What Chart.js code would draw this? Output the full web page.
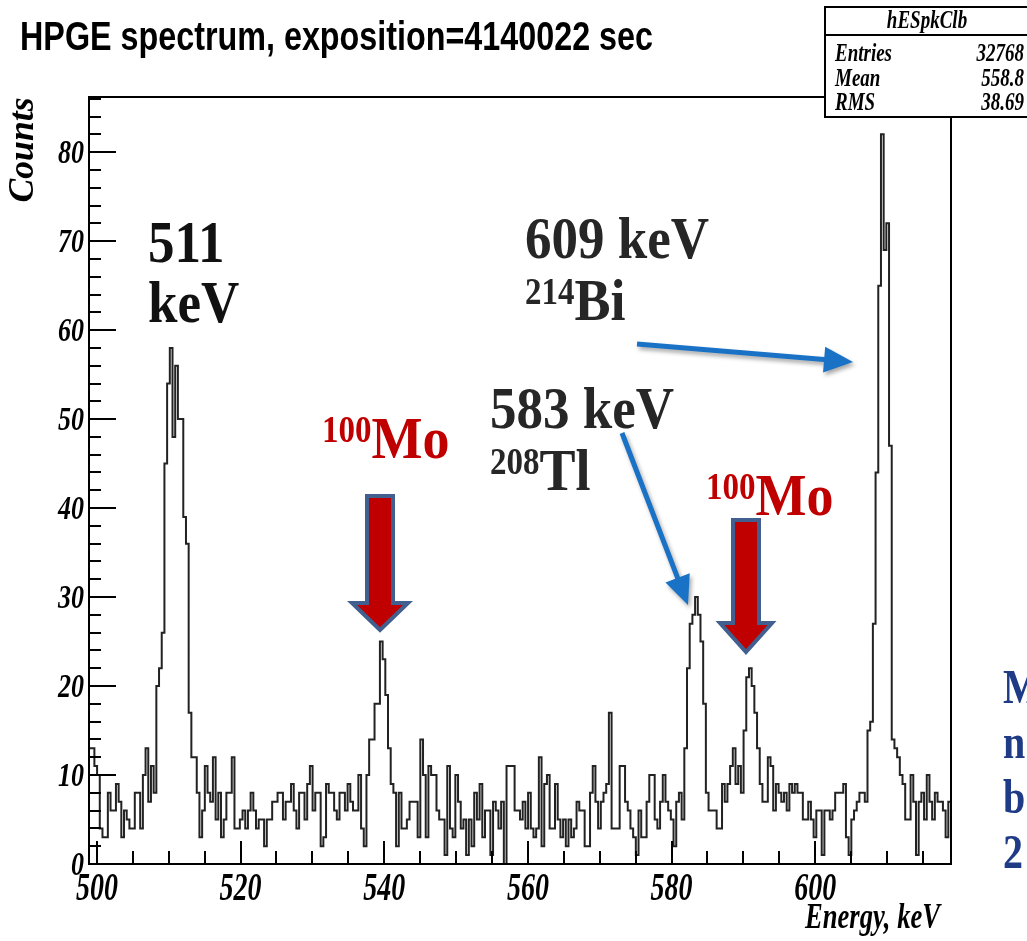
<!DOCTYPE html>
<html><head><meta charset="utf-8">
<script src="https://cdn.jsdelivr.net/npm/chart.js@4.4.1/dist/chart.umd.min.js"></script>
<style>html,body{margin:0;padding:0;background:#fff;overflow:hidden}#wrap{position:relative;width:1027px;height:941px}canvas{display:block}</style>
</head><body><div id="wrap"><canvas id="c" width="1027" height="941"></canvas></div>
<script>
// ---- data ----
const title = "HPGE spectrum, exposition=4140022 sec";
const xTitle = "Energy, keV";
const yTitle = "Counts";
const statsName = "hESpkClb";
const statsLabels = ["Entries", "Mean", "RMS"];
const statsValues = ["32768", "558.8", "38.69"];
const xRange = [498.9, 618.9];
const yRange = [0, 86.2];
const xLabelTicks = [500, 520, 540, 560, 580, 600];
const yLabelTicks = [0, 10, 20, 30, 40, 50, 60, 70, 80];
const binStart = 498.9;
const binWidth = 0.375;
const counts = [
 13,13,11,10,4,3,3,8,6,6,
 9,7,3,6,5,4,4,8,8,4,
 10,13,7,11,8,20,22,26,45,54,
 58,48,56,50,50,39,36,17,12,12,
 8,3,6,11,8,7,12,5,8,3,
 5,8,8,12,4,4,5,6,4,6,
 8,6,4,5,5,2,5,5,7,7,
 8,8,5,7,7,9,6,4,8,8,
 5,9,11,6,8,8,2,3,9,8,
 8,6,5,8,8,6,9,7,6,6,
 10,4,2,10,14,14,18,18,25,23,
 19,13,9,8,2,8,4,4,5,7,
 7,7,3,14,10,3,11,10,10,6,
 5,5,1,11,4,3,10,7,4,5,
 1,5,2,8,5,9,3,6,6,1,
 7,6,4,7,0,11,11,11,6,6,
 5,7,4,8,4,3,4,12,2,9,
 10,4,4,9,5,3,5,2,5,3,
 4,7,6,6,2,2,8,11,7,4,
 7,8,9,17,4,4,4,11,11,7,
 6,4,3,1,6,3,3,7,10,10,
 5,4,7,10,7,6,5,2,7,8,
 5,13,22,27,28,30,28,25,18,8,
 6,6,6,4,4,9,7,9,11,13,
 9,11,8,15,21,22,20,17,13,9,
 7,7,12,11,6,9,8,7,8,6,
 9,8,9,8,8,5,5,7,5,3,
 6,6,1,6,6,5,6,8,8,8,
 9,3,1,5,6,7,8,8,7,15,
 16,27,44,65,82,69,72,47,14,13,
 12,10,9,5,5,10,7,1,7,8,
 5,10,7,5,8,7,7,6,3,7
];
const peakLabels = [
  {text:"511", x:148, y:262, color:"#111"},
  {text:"keV", x:148, y:322, color:"#111"},
  {text:"609 keV", x:525, y:258, color:"#262626"},
  {text:"583 keV", x:490, y:428, color:"#262626"}
];
const isotopeLabels = [
  {sup:"214", el:"Bi", x:525, y:320, color:"#262626"},
  {sup:"208", el:"Tl", x:490, y:490, color:"#262626"},
  {sup:"100", el:"Mo", x:322, y:458, color:"#c00000"},
  {sup:"100", el:"Mo", x:706, y:515, color:"#c00000"}
];
const sideLetters = ["M", "n", "b", "2"];

// ---- chart ----
const points = counts.map((c, i) => ({x: binStart + i * binWidth, y: c}));
points.push({x: binStart + counts.length * binWidth, y: counts[counts.length - 1]});

function txt(ctx, s, x, y, o) {
  ctx.save();
  ctx.font = (o.style || "bold") + " " + o.size + "px " + (o.family || "'Liberation Serif', 'Times New Roman', serif");
  ctx.fillStyle = o.color || "#000";
  ctx.textBaseline = o.baseline || "alphabetic";
  let sx = o.sx || 1;
  const w = ctx.measureText(s).width;
  if (o.width) sx = o.width / w;
  ctx.translate(x, y);
  if (o.rot) ctx.rotate(o.rot);
  ctx.scale(sx, o.sy || 1);
  let dx = 0;
  if (o.align === "center") dx = -w / 2; else if (o.align === "right") dx = -w;
  ctx.fillText(s, dx, 0);
  ctx.restore();
  return w * sx;
}

function blueArrow(ctx, x1, y1, x2, y2) {
  const a = Math.atan2(y2 - y1, x2 - x1);
  const hl = 29, hw = 13, lw = 5;
  const bx = x2 - hl * Math.cos(a), by = y2 - hl * Math.sin(a);
  ctx.save();
  ctx.shadowColor = "rgba(0,0,0,0.35)"; ctx.shadowBlur = 4; ctx.shadowOffsetX = 2; ctx.shadowOffsetY = 3;
  ctx.fillStyle = "#1a72c6";
  ctx.beginPath();
  const px = -Math.sin(a), py = Math.cos(a);
  ctx.moveTo(x1 + px * lw / 2, y1 + py * lw / 2);
  ctx.lineTo(bx + px * lw / 2, by + py * lw / 2);
  ctx.lineTo(bx + px * hw, by + py * hw);
  ctx.lineTo(x2, y2);
  ctx.lineTo(bx - px * hw, by - py * hw);
  ctx.lineTo(bx - px * lw / 2, by - py * lw / 2);
  ctx.lineTo(x1 - px * lw / 2, y1 - py * lw / 2);
  ctx.closePath(); ctx.fill();
  ctx.restore();
}

function blockArrow(ctx, cx, top, headBase, tip, sh, hh) {
  ctx.save();
  ctx.beginPath();
  ctx.moveTo(cx - sh, top); ctx.lineTo(cx + sh, top); ctx.lineTo(cx + sh, headBase);
  ctx.lineTo(cx + hh, headBase); ctx.lineTo(cx, tip); ctx.lineTo(cx - hh, headBase);
  ctx.lineTo(cx - sh, headBase); ctx.closePath();
  ctx.fillStyle = "#c00000"; ctx.fill();
  ctx.lineWidth = 4; ctx.strokeStyle = "#41608f"; ctx.lineJoin = "miter"; ctx.stroke();
  ctx.restore();
}

const decor = {
  id: "decor",
  afterDatasetsDraw(chart) {
    const ctx = chart.ctx, a = chart.chartArea;
    const xs = chart.scales.x, ys = chart.scales.y;
    ctx.save();
    ctx.strokeStyle = "#000"; ctx.lineWidth = 2;
    ctx.strokeRect(a.left, a.top, a.right - a.left, a.bottom - a.top);
    for (let v = 500; v <= xRange[1]; v += 5) {
      const px = Math.round(xs.getPixelForValue(v));
      const len = (v % 20 === 0) ? 23 : 13;
      ctx.beginPath(); ctx.moveTo(px, a.bottom); ctx.lineTo(px, a.bottom - len); ctx.stroke();
    }
    for (let v = 0; v <= yRange[1]; v += 2) {
      const py = Math.round(ys.getPixelForValue(v));
      const len = (v % 10 === 0) ? 27 : 12;
      ctx.beginPath(); ctx.moveTo(a.left, py); ctx.lineTo(a.left + len, py); ctx.stroke();
    }
    ctx.restore();
    xLabelTicks.forEach(v => txt(ctx, String(v), xs.getPixelForValue(v), 900, {style:"italic bold", size:28, sy:1.45, align:"center"}));
    yLabelTicks.forEach(v => txt(ctx, String(v), a.left - 5, ys.getPixelForValue(v) + 11, {style:"italic bold", size:26, sy:1.28, align:"right"}));
    txt(ctx, xTitle, 940, 928, {style:"italic bold", size:35, width:135, align:"right"});
    txt(ctx, yTitle, 33, 150, {style:"italic bold", size:35, width:105, align:"center", rot:-Math.PI/2});
    txt(ctx, title, 20, 50, {family:"'Liberation Sans', Arial, sans-serif", size:40, width:633});
    ctx.save();
    ctx.fillStyle = "#fff"; ctx.fillRect(825, 7, 205, 110);
    ctx.strokeStyle = "#000"; ctx.lineWidth = 2; ctx.strokeRect(825, 7, 205, 110);
    ctx.beginPath(); ctx.moveTo(825, 35); ctx.lineTo(1030, 35); ctx.stroke();
    ctx.restore();
    txt(ctx, statsName, 927, 28, {style:"italic bold", size:19, sy:1.28, align:"center"});
    statsLabels.forEach((s, i) => {
      const by = 61 + i * 24.5;
      txt(ctx, s, 835, by, {style:"italic bold", size:19, sy:1.28});
      txt(ctx, statsValues[i], 1024, by, {style:"italic bold", size:19, sy:1.28, align:"right"});
    });
    peakLabels.forEach(l => txt(ctx, l.text, l.x, l.y, {size:53, sy:1.12, color:l.color}));
    isotopeLabels.forEach(l => {
      const w = txt(ctx, l.sup, l.x, l.y - 16, {size:33, sy:1.15, color:l.color});
      txt(ctx, l.el, l.x + w, l.y, {size:54, sy:1.1, color:l.color});
    });
    blueArrow(ctx, 637, 344, 853, 362);
    blueArrow(ctx, 622, 433, 688, 605);
    blockArrow(ctx, 380, 496, 603, 630, 13, 28);
    blockArrow(ctx, 746, 520, 623, 652, 13, 26);
    sideLetters.forEach((s, i) => txt(ctx, s, 1003, 703 + i * 55, {size:40, sy:1.2, color:"#1f3b86"}));
  }
};

new Chart(document.getElementById("c"), {
  type: "line",
  data: { datasets: [{
    data: points, stepped: "before", borderColor: "#222", borderWidth: 2,
    pointRadius: 0, fill: false, tension: 0
  }]},
  options: {
    responsive: false, animation: false, devicePixelRatio: 1,
    layout: { padding: { left: 89, right: 76, top: 97, bottom: 77 } },
    plugins: { legend: { display: false }, tooltip: { enabled: false } },
    scales: {
      x: { type: "linear", min: xRange[0], max: xRange[1], display: false },
      y: { type: "linear", min: yRange[0], max: yRange[1], display: false }
    }
  },
  plugins: [decor]
});
</script></body></html>
